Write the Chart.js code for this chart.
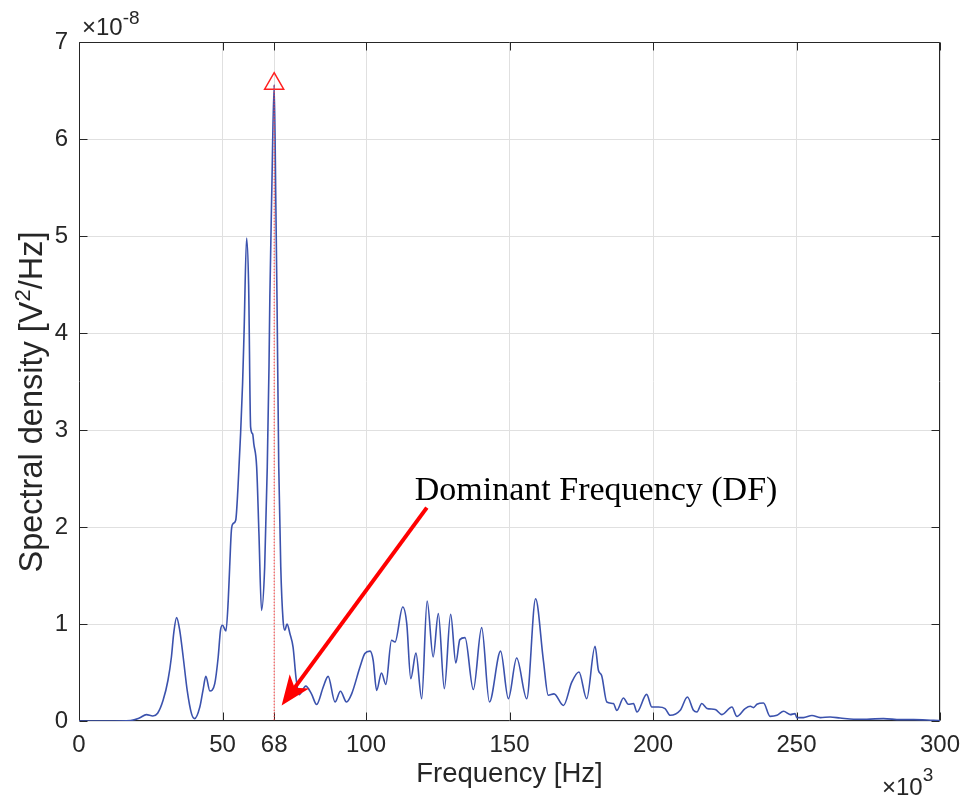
<!DOCTYPE html>
<html><head><meta charset="utf-8">
<script src="https://cdn.jsdelivr.net/npm/chart.js@4/dist/chart.umd.min.js"></script>
<style>html,body{margin:0;padding:0;background:#fff;}canvas{display:block;}</style>
</head><body>
<canvas id="c" width="963" height="798"></canvas>
<script>
// Frequency in units of 10^3 Hz, spectral density in units of 10^-8 V^2/Hz
const freqKHz = [0, 10, 18, 21, 23.5, 25.7, 27.4, 29.3, 31.0, 32.2, 33.0, 34.0, 35.1, 36.3, 37.7, 39.2, 40.3, 42.1, 43.2, 44.2, 45.6, 47.3, 48.5, 49.3, 50.0, 51.2, 52.0, 52.5, 53.1, 53.7, 54.6, 55.4, 56.3, 57.0, 57.5, 58.4, 59.1, 59.8, 60.5, 60.9, 61.9, 62.7, 63.6, 64.7, 65.6, 66.2, 66.5, 67.2, 68.0, 68.6, 69.0, 69.6, 70.3, 71.1, 71.7, 72.5, 73.5, 74.6, 75.6, 76.7, 79.0, 81.0, 82.8, 85.1, 86.8, 89.2, 91.1, 93.2, 95.0, 97.9, 99.6, 101.4, 102.5, 103.7, 105.4, 106.9, 108.9, 110.1, 112.8, 114.2, 115.6, 117.4, 119.4, 121.3, 123.4, 125.2, 127.3, 129.5, 131.3, 132.7, 134.5, 137.4, 140.3, 143.0, 146.9, 149.6, 152.5, 156.0, 159.1, 161.8, 163.5, 165.5, 168.8, 171.7, 174.2, 176.9, 179.8, 181.0, 182.1, 183.9, 186.2, 187.4, 189.7, 191.4, 193.2, 194.4, 197.8, 199.6, 201.9, 204.2, 206.0, 209.5, 212.0, 214.1, 215.3, 217.0, 218.8, 221.7, 224.0, 227.5, 229.2, 232.1, 233.9, 235.0, 236.2, 238.5, 240.8, 243.2, 245.5, 247.8, 249.5, 250.1, 252.4, 255.4, 258.3, 261.7, 265.2, 269.9, 274.5, 280.3, 286.2, 290.8, 297.8, 300];
const psdE8 = [0, 0, 0.005, 0.03, 0.066, 0.052, 0.08, 0.213, 0.42, 0.66, 0.904, 1.066, 0.935, 0.66, 0.316, 0.076, 0.025, 0.144, 0.316, 0.46, 0.31, 0.386, 0.66, 0.935, 0.987, 0.928, 1.244, 1.588, 1.966, 2.035, 2.069, 2.41, 2.96, 3.48, 3.99, 4.98, 4.5, 3.03, 2.96, 2.86, 2.62, 1.93, 1.14, 1.59, 2.62, 3.65, 4.37, 5.5, 6.56, 5.3, 4.33, 2.62, 1.59, 1.04, 0.935, 1.0, 0.90, 0.76, 0.45, 0.27, 0.36, 0.28, 0.17, 0.35, 0.46, 0.196, 0.306, 0.196, 0.28, 0.557, 0.695, 0.72, 0.626, 0.316, 0.495, 0.378, 0.832, 0.814, 1.175, 1.004, 0.437, 0.70, 0.23, 1.237, 0.66, 1.107, 0.334, 1.10, 0.598, 0.839, 0.86, 0.324, 0.963, 0.196, 0.72, 0.23, 0.65, 0.23, 1.26, 0.626, 0.265, 0.28, 0.16, 0.40, 0.505, 0.23, 0.77, 0.52, 0.47, 0.196, 0.18, 0.11, 0.237, 0.172, 0.18, 0.093, 0.275, 0.144, 0.144, 0.128, 0.059, 0.11, 0.247, 0.11, 0.093, 0.18, 0.13, 0.118, 0.066, 0.144, 0.048, 0.128, 0.152, 0.138, 0.172, 0.186, 0.048, 0.059, 0.10, 0.066, 0.076, 0.035, 0.035, 0.056, 0.035, 0.041, 0.031, 0.018, 0.018, 0.025, 0.014, 0.014, 0.007, 0.005];
const xTickValues = [0, 50, 68, 100, 150, 200, 250, 300];
const yTickValues = [0, 1, 2, 3, 4, 5, 6, 7];
const peakFreq = [68];
const peakMarker = [6.57];
const peakLineTop = [6.55];
const annotationText = 'Dominant Frequency (DF)';
const textAnchor = {x: 117.0, y: 2.275};
const arrowFrom = {x: 121.2, y: 2.2};
const arrowTo = {x: 70.6, y: 0.16};
const yTitleParts = ['Spectral density [V', '2', '/Hz]'];

const AX = '#262626';
const SANS = "'Liberation Sans', Arial, sans-serif";

const framePlugin = {
  id: 'frame',
  beforeDatasetsDraw(chart) {
    const {ctx, chartArea: a, scales: {x, y}} = chart;
    ctx.save();
    ctx.strokeStyle = AX; ctx.lineWidth = 1;
    const L = Math.round(a.left) + 0.5, R = Math.round(a.right) - 0.5;
    const T = Math.round(a.top) + 0.5, B = Math.round(a.bottom) - 0.5;
    ctx.beginPath();
    ctx.rect(L, T, R - L, B - T);
    const tl = 8;
    xTickValues.forEach(v => {
      const px = Math.round(x.getPixelForValue(v)) + 0.5;
      ctx.moveTo(px, B); ctx.lineTo(px, B - tl);
      ctx.moveTo(px, T); ctx.lineTo(px, T + tl);
    });
    yTickValues.forEach(v => {
      const py = Math.round(y.getPixelForValue(v)) + 0.5;
      ctx.moveTo(L, py); ctx.lineTo(L + tl, py);
      ctx.moveTo(R, py); ctx.lineTo(R - tl, py);
    });
    ctx.stroke();
    ctx.restore();
  },
  afterDraw(chart) {
    const {ctx, chartArea: a, scales: {x, y}} = chart;
    ctx.save();
    ctx.fillStyle = AX;
    ctx.textBaseline = 'alphabetic';
    ctx.textAlign = 'left';
    // y title with superscript
    ctx.save();
    ctx.translate(42, 402);
    ctx.rotate(-Math.PI / 2);
    const fBig = '32.5px ' + SANS, fSup = '22px ' + SANS;
    ctx.font = fBig; const w1 = ctx.measureText(yTitleParts[0]).width;
    const w3 = ctx.measureText(yTitleParts[2]).width;
    ctx.font = fSup; const w2 = ctx.measureText(yTitleParts[1]).width;
    let sx = -(w1 + w2 + w3) / 2;
    ctx.font = fBig; ctx.fillText(yTitleParts[0], sx, 0);
    ctx.font = fSup; ctx.fillText(yTitleParts[1], sx + w1, -12.5);
    ctx.font = fBig; ctx.fillText(yTitleParts[2], sx + w1 + w2, 0);
    ctx.restore();
    // exponent labels
    ctx.font = '24px ' + SANS;
    const base1 = '\u00d710';
    ctx.fillText(base1, a.left + 3, a.top - 7);
    let w = ctx.measureText(base1).width;
    ctx.font = '19px ' + SANS;
    ctx.fillText('-8', a.left + 3 + w, a.top - 18);
    ctx.font = '24px ' + SANS;
    ctx.fillText(base1, a.right - 58, 795);
    w = ctx.measureText(base1).width;
    ctx.font = '19px ' + SANS;
    ctx.fillText('3', a.right - 58 + w, 781);
    // arrow
    const x0 = x.getPixelForValue(arrowFrom.x), y0 = y.getPixelForValue(arrowFrom.y);
    const x1 = x.getPixelForValue(arrowTo.x), y1 = y.getPixelForValue(arrowTo.y);
    const dx = x1 - x0, dy = y1 - y0, len = Math.hypot(dx, dy);
    const ux = dx / len, uy = dy / len, px = -uy, py = ux;
    const hl = 30, hw = 12, notch = 22;
    ctx.strokeStyle = '#ff0000'; ctx.fillStyle = '#ff0000';
    ctx.lineWidth = 4; ctx.lineCap = 'butt';
    ctx.beginPath();
    ctx.moveTo(x0, y0);
    ctx.lineTo(x1 - ux * (notch - 2), y1 - uy * (notch - 2));
    ctx.stroke();
    ctx.beginPath();
    ctx.moveTo(x1, y1);
    ctx.lineTo(x1 - ux * hl + px * hw, y1 - uy * hl + py * hw);
    ctx.lineTo(x1 - ux * notch, y1 - uy * notch);
    ctx.lineTo(x1 - ux * hl - px * hw, y1 - uy * hl - py * hw);
    ctx.closePath();
    ctx.fill();
    // text
    ctx.fillStyle = '#000000';
    ctx.font = "34px 'Liberation Serif', 'Times New Roman', serif";
    ctx.fillText(annotationText, x.getPixelForValue(textAnchor.x), y.getPixelForValue(textAnchor.y));
    ctx.restore();
  }
};

new Chart(document.getElementById('c').getContext('2d'), {
  type: 'scatter',
  data: {
    datasets: [
      {
        label: 'DF line',
        data: [{x: peakFreq[0], y: peakLineTop[0]}, {x: peakFreq[0], y: 0}],
        showLine: true, borderColor: '#ff3b3b', borderWidth: 1, borderDash: [1.5, 1.5],
        pointRadius: 0, order: 0
      },
      {
        label: 'Peak',
        data: [{x: peakFreq[0], y: peakMarker[0]}],
        pointStyle: 'triangle', pointRadius: 11, borderColor: '#ff2020',
        backgroundColor: 'rgba(0,0,0,0)', pointBorderWidth: 1.5, borderWidth: 1.5, order: 0
      },
      {
        label: 'PSD',
        data: freqKHz.map((f, i) => ({x: f, y: psdE8[i]})),
        showLine: true, borderColor: '#3b52ad', borderWidth: 1.6, pointRadius: 0,
        cubicInterpolationMode: 'monotone', order: 1
      }
    ]
  },
  options: {
    responsive: false, animation: false, devicePixelRatio: 1,
    layout: {padding: {left: 0, right: 23, top: 42, bottom: 0}},
    plugins: {legend: {display: false}, tooltip: {enabled: false}},
    scales: {
      x: {
        type: 'linear', min: 0, max: 300,
        afterBuildTicks: s => { s.ticks = xTickValues.map(v => ({value: v})); },
        afterFit: s => { s.height = 77; s.paddingLeft = 0; s.paddingRight = 0; },
        grid: {color: '#e0e0e0', drawTicks: false, lineWidth: 1},
        border: {display: false},
        ticks: {font: {family: SANS, size: 24}, color: AX, padding: 10, maxRotation: 0, autoSkip: false,
                callback: v => String(v)},
        title: {display: true, text: 'Frequency [Hz]', font: {family: SANS, size: 27.5}, color: AX,
                padding: {top: 0, bottom: 7.5}}
      },
      y: {
        type: 'linear', min: 0, max: 7,
        afterBuildTicks: s => { s.ticks = yTickValues.map(v => ({value: v})); },
        afterFit: s => { s.width = 79; s.paddingTop = 0; s.paddingBottom = 0; },
        grid: {color: '#e0e0e0', drawTicks: false, lineWidth: 1},
        border: {display: false},
        ticks: {font: {family: SANS, size: 24}, color: AX, padding: 11, callback: v => String(v)},
        title: {display: false}
      }
    }
  },
  plugins: [framePlugin]
});
</script>
</body></html>
